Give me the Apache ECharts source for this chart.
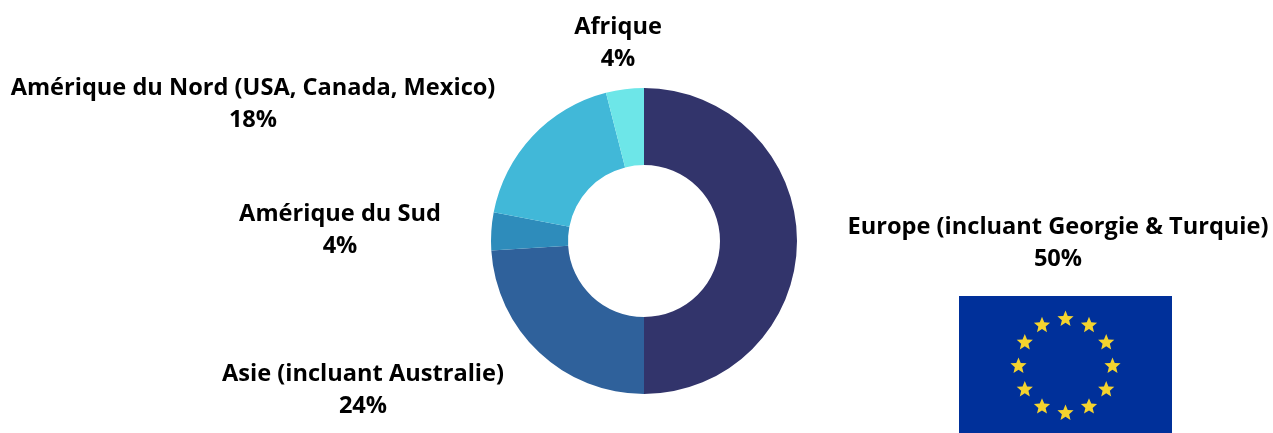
<!DOCTYPE html>
<html>
<head>
<meta charset="utf-8">
<style>html,body{margin:0;padding:0;background:#fff}#container{width:1273px;height:433px}</style>
<script src="https://cdn.jsdelivr.net/npm/echarts@6/dist/echarts.min.js"></script>
</head>
<body>
<div id="container"></div>
<script>
const categories = ['Europe (incluant Georgie & Turquie)', 'Asie (incluant Australie)', 'Amérique du Sud', 'Amérique du Nord (USA, Canada, Mexico)', 'Afrique'];
const values = [50, 24, 4, 18, 4];
const colors = ['#32346b', '#2f619b', '#2e8cbb', '#41b8d8', '#6de6e8'];
// label centre of each slice, in px
const labelCentres = [[1058, 243], [363, 390], [340, 230], [253, 104], [618, 43]];
const flagStars = [0,1,2,3,4,5,6,7,8,9,10,11];

const chart = echarts.init(document.getElementById('container'));

const flagCx = 1065.5, flagCy = 366, flagR = 47;

function starPoints(cx, cy, r) {
  const pts = [];
  for (let i = 0; i < 10; i++) {
    const rr = i % 2 ? r * 0.45 : r;
    const t = i * Math.PI / 5;
    pts.push([cx + rr * Math.sin(t), cy - rr * Math.cos(t)]);
  }
  return pts;
}

const flagGraphics = [{
  type: 'rect', shape: {x: 959, y: 296, width: 213, height: 137},
  style: {fill: '#00309a'}, silent: true
}].concat(flagStars.map(function (i) {
  const a = i * Math.PI / 6;
  return {
    type: 'polygon', silent: true,
    shape: {points: starPoints(flagCx + flagR * Math.sin(a), flagCy - flagR * Math.cos(a), 8.5)},
    style: {fill: '#f4d32e'}
  };
}));

chart.setOption({
  animation: false,
  color: colors,
  graphic: flagGraphics,
  series: [{
    type: 'pie',
    center: [644, 241],
    radius: [76, 153],
    startAngle: 90,
    clockwise: true,
    data: categories.map(function (name, i) { return {name: name, value: values[i]}; }),
    label: {
      show: true,
      formatter: function (p) { return p.name + '\n' + p.value + '%'; },
      fontFamily: '"Open Sans"',
      fontWeight: 700,
      fontSize: 23.6,
      lineHeight: 32,
      color: '#000',
      align: 'center',
      verticalAlign: 'middle',
      overflow: 'none',
      width: 600
    },
    labelLine: {show: false},
    labelLayout: function (p) {
      const c = labelCentres[p.dataIndex];
      return {x: c[0], y: c[1], align: 'center', verticalAlign: 'middle', hideOverlap: false, moveOverlap: false};
    }
  }]
});
</script>
</body>
</html>
